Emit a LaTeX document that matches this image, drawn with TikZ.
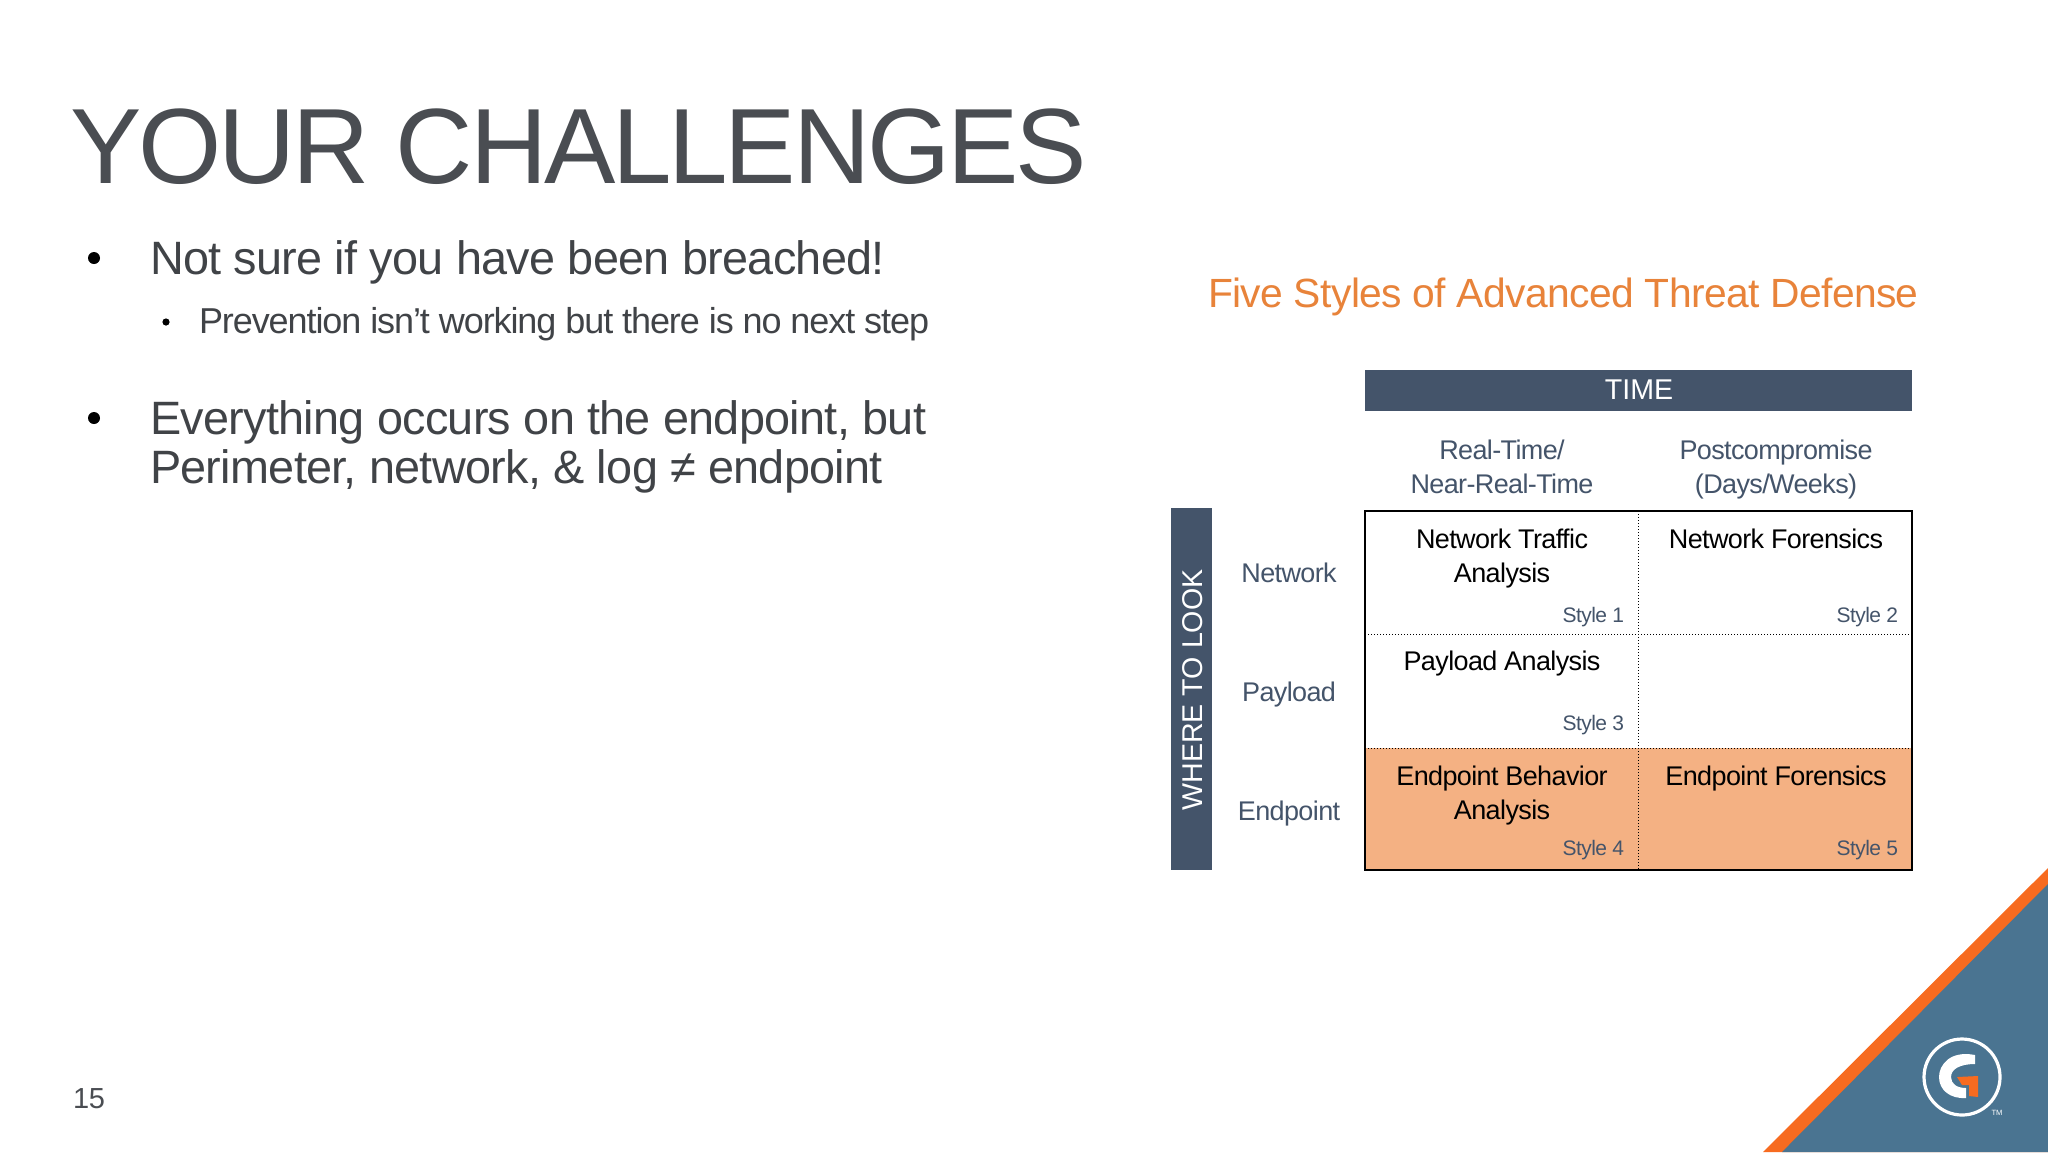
\documentclass[tikz,border=0pt]{standalone}
\usepackage{fontspec}
\setmainfont{Liberation Sans}
\definecolor{titlegray}{HTML}{4A4D52}
\definecolor{bodygray}{HTML}{404347}
\definecolor{slate}{HTML}{44546A}
\definecolor{cellorange}{HTML}{F4B183}
\definecolor{headorange}{HTML}{E8833A}
\definecolor{teal}{HTML}{4A7491}
\definecolor{stripe}{HTML}{F76B20}
\newcommand{\fs}[2]{\addfontfeatures{LetterSpace=#2}\fontsize{#1}{#1}\selectfont}
\tikzset{
  txt/.style={inner sep=0pt,outer sep=0pt,anchor=base west},
  ctr/.style={inner sep=0pt,outer sep=0pt,anchor=base},
  title/.style={txt,text=titlegray,font=\fs{53.5}{-3.0}},
  lvlone/.style={txt,text=bodygray,font=\fs{23.4}{-1.5}},
  lvltwo/.style={txt,text=bodygray,font=\fs{18}{-3.0}},
  dotone/.style={circle,fill=black,inner sep=0pt,minimum size=6pt},
  headlbl/.style={ctr,text=slate,font=\fs{13.5}{-2.3}},
  celltxt/.style={ctr,text=black,font=\fs{13.5}{-2.3}},
  stylelbl/.style={inner sep=0pt,outer sep=0pt,anchor=base east,text=slate,font=\fs{10.5}{-2.6}},
  bar/.style={fill=slate,draw=none},
  gridd/.style={black,line width=0.5pt,densely dotted},
  frame/.style={draw=black,line width=0.7pt},
}
\begin{document}
\begin{tikzpicture}[x=0.5pt,y=-0.5pt]
\useasboundingbox (0,0) rectangle (2048,1152);
\fill[white] (0,0) rectangle (2048,1152);
% title and bullets
\node[title] (title) at (70,183) {YOUR CHALLENGES};
\node[dotone] (b1) at (94,258) {};
\node[lvlone] (t1) at (150,274) {Not sure if you have been breached!};
\node[dotone,minimum size=3.6pt] (b2) at (166,322) {};
\node[lvltwo] (t2) at (199,333) {Prevention isn’t working but there is no next step};
\node[dotone] (b3) at (94,418) {};
\node[lvlone] (t3) at (150,434) {Everything occurs on the endpoint, but};
\node[lvlone] (t4) at (150,483) {Perimeter, network, \& log ≠ endpoint};
\node[txt,text=titlegray,font=\fs{14.5}{-1}] (pg) at (73,1108) {15};
% inset heading
\node[txt,text=headorange,font=\fs{20.4}{-1.5}] (head) at (1208,307) {Five Styles of Advanced Threat Defense};
% bars
\fill[bar] (1365,370) rectangle (1912,411);
\node[ctr,text=white,font=\fs{14.3}{0}] (time) at (1639,399) {TIME};
\fill[bar] (1171,508) rectangle (1212,870);
\node[rotate=90,inner sep=0pt,text=white,font=\fs{14.3}{0}] (where) at (1193,690) {WHERE TO LOOK};
% column headers
\node[headlbl] (c1a) at (1502,459) {Real-Time/};
\node[headlbl] (c1b) at (1502,493) {Near-Real-Time};
\node[headlbl] (c2a) at (1776,459) {Postcompromise};
\node[headlbl] (c2b) at (1776,493) {(Days/Weeks)};
% row headers
\node[headlbl] (r1) at (1289,582) {Network};
\node[headlbl] (r2) at (1289,701) {Payload};
\node[headlbl] (r3) at (1289,820) {Endpoint};
% grid
\fill[cellorange] (1365,748) rectangle (1912,870);
\draw[gridd] (1365,634) -- (1912,634);
\draw[gridd] (1365,748) -- (1912,748);
\draw[gridd] (1638,511) -- (1638,870);
\draw[frame] (1365,511) rectangle (1912,870);
% cells
\node[celltxt] (n1a) at (1502,548) {Network Traffic};
\node[celltxt] (n1b) at (1502,582) {Analysis};
\node[celltxt] (n2) at (1776,548) {Network Forensics};
\node[celltxt] (n3) at (1502,670) {Payload Analysis};
\node[celltxt] (n4a) at (1502,785) {Endpoint Behavior};
\node[celltxt] (n4b) at (1502,819) {Analysis};
\node[celltxt] (n5) at (1776,785) {Endpoint Forensics};
\node[stylelbl] (s1) at (1624,622) {Style 1};
\node[stylelbl] (s2) at (1898,622) {Style 2};
\node[stylelbl] (s3) at (1624,730) {Style 3};
\node[stylelbl] (s4) at (1624,855) {Style 4};
\node[stylelbl] (s5) at (1898,855) {Style 5};
% corner
\fill[stripe] (1763,1152) -- (2048,868) -- (2048,1152) -- cycle;
\fill[teal] (1782,1152) -- (2048,884) -- (2048,1152) -- cycle;
% logo
\draw[white,line width=1.6pt] (1962,1077) circle (38);
\fill[white] (1975,1055) .. controls (1950,1050) and (1939,1065) .. (1939,1077) .. controls (1939,1090) and (1950,1099) .. (1966,1098) -- (1966,1088) .. controls (1957,1088) and (1951,1084) .. (1951,1077) .. controls (1951,1069) and (1960,1064) .. (1975,1064) -- cycle;
\fill[stripe] (1957,1077) -- (1978,1076) -- (1978,1097) -- (1969,1096) -- (1969,1085) -- (1962,1085) -- cycle;
\node[inner sep=0pt,text=white,font=\fs{3.8}{0}] (tm) at (1997,1113) {TM};
\end{tikzpicture}
\end{document}
